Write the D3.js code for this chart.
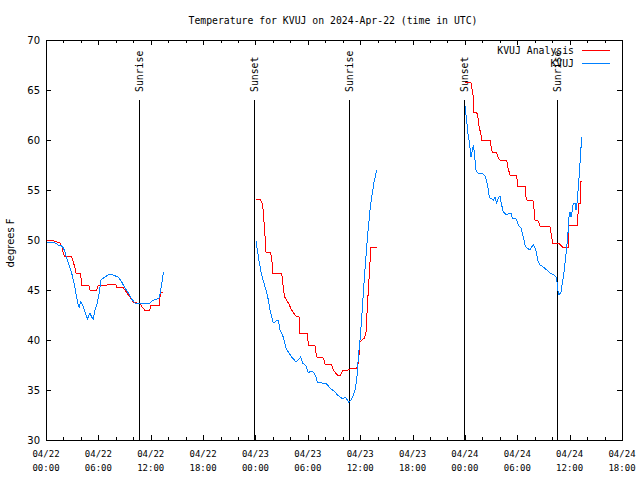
<!DOCTYPE html>
<html><head><meta charset="utf-8">
<script src="https://cdn.jsdelivr.net/npm/d3@7"></script>
<style>body{margin:0;background:#fff}svg{display:block}text{fill:#000}</style>
</head><body><svg id="c" width="640" height="480"></svg>
<script>
// Hours since 2024-04-22 00:00 UTC; null separates gaps
const analysisHours = [0.0,0.84,0.9,1.6,1.8,1.95,2.1,2.9,3.3,3.44,3.95,4.1,4.9,5.05,5.8,6.0,7.0,7.1,8.0,8.1,8.8,9.2,9.6,10.0,10.8,11.0,11.3,11.9,12.0,13.0,13.1,13.4,
 null,
 24.06,24.52,24.71,24.83,24.98,25.09,25.21,25.67,25.86,25.97,27.0,27.19,27.35,27.77,28.15,28.61,28.99,29.1,29.94,30.06,30.82,31.02,31.78,31.97,32.73,32.92,33.38,33.77,34.0,34.64,35.02,35.6,35.79,35.98,36.48,36.67,36.82,37.05,37.24,37.89,
 null,
 48.0,48.7,48.97,49.0,49.35,49.54,49.62,49.84,49.92,50.88,50.99,51.14,51.64,51.83,52.02,52.79,52.9,53.17,53.93,54.05,54.89,54.96,55.08,55.84,55.96,56.03,56.42,56.61,57.75,57.95,58.06,58.71,59.17,59.86,59.93,60.92,61.0,61.19,61.27,61.38];
const analysisTemps = [50.0,50.0,49.9,49.7,49.4,48.8,48.4,48.4,47.3,46.7,46.7,45.5,45.5,45.0,45.0,45.5,45.5,45.6,45.6,45.3,45.3,44.8,44.3,43.8,43.6,43.3,43.0,43.0,43.5,43.5,44.8,44.8,
 null,
 54.1,54.1,53.8,53.5,51.8,50.5,48.8,48.8,48.3,46.7,46.7,45.2,44.3,43.7,43.0,42.4,42.3,40.7,40.7,39.5,39.4,38.3,38.2,37.6,37.5,37.0,36.5,36.5,37.0,37.0,37.2,37.2,37.7,39.8,40.2,40.8,43.3,46.7,49.3,49.3,
 null,
 65.8,65.7,64.3,62.8,62.8,62.0,61.4,60.5,60.0,60.0,59.4,58.8,58.7,58.2,58.0,58.0,57.3,56.5,56.4,55.4,55.4,54.5,54.0,53.9,52.7,52.0,51.9,51.4,51.3,50.3,49.7,49.7,49.3,49.3,51.5,51.5,53.7,53.7,55.9,55.9];

const obsHours = [0.08,0.84,1.41,1.79,1.99,2.18,2.37,2.75,2.94,3.13,3.32,3.51,3.7,3.8,3.95,4.09,4.28,4.47,4.74,5.04,5.23,5.42,5.61,5.88,6.11,6.3,6.76,7.33,7.64,8.29,8.67,9.05,9.44,9.82,10.2,10.77,11.92,12.11,12.68,12.99,13.14,13.29,13.45,
 null,
 24.06,24.22,24.45,24.71,24.98,25.29,25.48,25.67,25.86,26.05,26.24,26.43,26.62,26.81,27.19,27.5,27.77,28.15,28.65,28.91,29.18,29.41,29.79,30.06,30.33,30.63,30.94,31.09,31.59,32.16,32.54,33.12,33.38,33.69,34.0,34.26,34.45,34.68,34.95,35.22,35.41,35.6,35.71,35.83,35.98,36.17,36.36,36.55,36.74,36.94,37.13,37.32,37.59,37.89,
 null,
 48.01,48.2,48.32,48.47,48.59,48.7,48.85,48.97,49.04,49.16,49.27,49.47,50.1,50.37,50.6,50.76,50.88,51.26,51.45,51.64,51.83,52.02,52.21,52.4,52.67,52.98,53.28,53.44,53.74,53.93,54.12,54.43,54.69,54.89,55.08,55.46,55.65,55.88,56.11,56.34,56.61,56.99,57.37,57.76,58.25,58.52,58.63,58.78,59.01,59.17,59.39,59.55,59.78,59.93,60.05,60.16,60.31,60.43,60.62,60.73,60.85,61.0,61.19,61.38];
const obsTemps = [49.7,49.8,49.5,49.4,49.2,48.8,48.2,47.2,46.7,46.0,45.2,44.3,43.5,43.3,43.8,43.7,43.3,42.8,42.1,42.7,42.3,42.1,43.0,43.7,44.8,46.0,46.3,46.6,46.5,46.3,45.8,45.2,44.7,44.1,43.7,43.7,43.7,43.9,44.1,44.2,45.0,45.8,46.8,
 null,
 49.9,49.0,47.7,46.5,45.7,44.7,44.0,43.0,42.3,41.7,41.8,42.0,42.0,41.0,40.3,39.2,38.8,38.3,37.8,38.0,38.3,37.7,37.4,36.7,36.9,36.8,36.3,35.8,35.7,35.6,35.2,34.8,34.5,34.3,34.1,34.3,34.1,33.8,34.0,34.5,35.0,36.0,37.3,38.7,40.0,42.2,44.7,47.0,49.3,51.3,53.0,54.3,55.8,57.0,
 null,
 63.4,62.0,60.8,60.0,59.2,58.3,59.0,59.5,59.0,58.0,57.0,56.7,56.6,56.3,55.5,54.5,54.2,54.0,54.3,53.7,54.2,54.4,53.5,52.8,52.6,52.6,52.7,52.2,52.2,52.0,51.5,51.2,50.3,49.5,49.2,49.0,49.3,49.5,49.1,48.0,47.5,47.3,47.0,46.7,46.5,46.2,45.0,44.5,44.8,45.7,47.0,48.3,50.3,52.3,52.8,52.3,53.0,53.7,53.7,53.0,53.7,55.3,57.7,60.3];

const sunLabels = ["Sunrise","Sunset","Sunrise","Sunset","Sunrise"];
const sunHours = [10.69,23.87,34.68,47.9,58.58];
const yTicks = [30,35,40,45,50,55,60,65,70];
const seriesNames = ["KVUJ Analysis","KVUJ"];
const seriesColors = ["#ff0000","#0080ff"];
const titleText = "Temperature for KVUJ on 2024-Apr-22 (time in UTC)";
const yLabel = "degrees F";

const t0 = Date.UTC(2024,3,22,0,0);
const toDate = h => h==null ? null : new Date(t0 + h*3600000);

const svg = d3.select("#c");
const L=46, R=622, T=40, B=440;
const mono = "'DejaVu Sans Mono', monospace";
const x = d3.scaleUtc().domain([toDate(0), toDate(66)]).range([L,R]);
const y = d3.scaleLinear().domain([30,70]).range([B,T]);

// ticks
const majorX = d3.range(0,67,6).map(toDate);
const minorX = d3.range(0,67,2).filter(h=>h%6!==0).map(toDate);
const g = svg.append("g").attr("stroke","#000").attr("stroke-width",1).attr("shape-rendering","crispEdges");
majorX.forEach(d=>{const px=Math.round(x(d))+0.5;
  g.append("line").attr("x1",px).attr("x2",px).attr("y1",B).attr("y2",B-5);
  g.append("line").attr("x1",px).attr("x2",px).attr("y1",T).attr("y2",T+5);});
minorX.forEach(d=>{const px=Math.round(x(d))+0.5;
  g.append("line").attr("x1",px).attr("x2",px).attr("y1",B).attr("y2",B-3);
  g.append("line").attr("x1",px).attr("x2",px).attr("y1",T).attr("y2",T+3);});
yTicks.forEach(v=>{const py=Math.round(y(v))+0.5;
  g.append("line").attr("x1",L).attr("x2",L+5).attr("y1",py).attr("y2",py);
  g.append("line").attr("x1",R).attr("x2",R-5).attr("y1",py).attr("y2",py);});

// y labels
svg.append("g").selectAll("text").data(yTicks).join("text")
  .attr("x",40).attr("y",d=>y(d)+4).attr("text-anchor","end")
  .style("font-family","'DejaVu Sans', sans-serif").style("font-size","10px").text(d=>d);
// x labels
const fDay = d3.utcFormat("%m/%d"), fHr = d3.utcFormat("%H:%M");
const xl = svg.append("g").selectAll("g").data(majorX).join("g");
xl.append("text").attr("x",d=>x(d)).attr("y",457).attr("text-anchor","middle")
  .style("font-family",mono).style("font-size","9px").text(d=>fDay(d));
xl.append("text").attr("x",d=>x(d)).attr("y",471).attr("text-anchor","middle")
  .style("font-family",mono).style("font-size","9px").text(d=>fHr(d));

// title & y label
svg.append("text").attr("x",333).attr("y",24).attr("text-anchor","middle")
  .style("font-family",mono).style("font-size","9.8px").text(titleText);
svg.append("text").attr("transform","translate(14,243) rotate(-90)").attr("text-anchor","middle")
  .style("font-family","'DejaVu Sans', sans-serif").style("font-size","10px").text(yLabel);

// sun lines
sunHours.forEach((h,i)=>{
  const px=Math.round(x(toDate(h)))+0.5;
  svg.append("line").attr("x1",px).attr("x2",px).attr("y1",100).attr("y2",B)
    .attr("stroke","#000").attr("shape-rendering","crispEdges");
  svg.append("text").attr("transform",`translate(${px+3.5},92) rotate(-90)`)
    .style("font-family",mono).style("font-size","9.8px").text(sunLabels[i]);
});

// series
const mk = (hs,ts)=>hs.map((h,i)=>({d:toDate(h),v:ts[i]}));
const line = d3.line().defined(p=>p.d!=null&&p.v!=null).x(p=>x(p.d)).y(p=>y(p.v));
[[analysisHours,analysisTemps],[obsHours,obsTemps]].forEach(([hs,ts],i)=>{
  svg.append("path").datum(mk(hs,ts)).attr("d",line).attr("fill","none")
    .attr("stroke",seriesColors[i]).attr("stroke-width",1).attr("shape-rendering","crispEdges");
});

// border
svg.append("rect").attr("x",L+0.5).attr("y",T+0.5).attr("width",R-L).attr("height",B-T)
  .attr("fill","none").attr("stroke","#000").attr("shape-rendering","crispEdges");

// legend
seriesNames.forEach((n,i)=>{
  const ly=50+i*12.5;
  svg.append("text").attr("x",574).attr("y",ly+4).attr("text-anchor","end")
    .style("font-family",mono).style("font-size","9.8px").text(n);
  svg.append("line").attr("x1",582).attr("x2",610).attr("y1",Math.round(ly)+0.5).attr("y2",Math.round(ly)+0.5)
    .attr("stroke",seriesColors[i]).attr("shape-rendering","crispEdges");
});
</script></body></html>
